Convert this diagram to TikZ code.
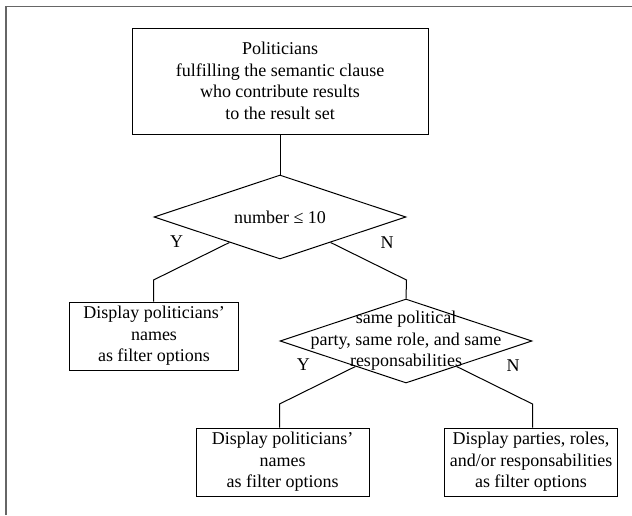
\documentclass[tikz,border=0pt]{standalone}
\usepackage{fontspec}
\setmainfont{Liberation Serif}
\usetikzlibrary{shapes.geometric,calc}
\begin{document}
\begin{tikzpicture}[x=1pt,y=-1pt,
  every node/.style={font=\fontsize{18}{21.6}\selectfont},
  box/.style={draw, line width=1pt, inner sep=0pt, align=center},
  dia/.style={draw, diamond, line width=1pt, inner sep=0pt, minimum width=252pt, minimum height=84pt},
  txt/.style={align=center, inner sep=0pt},
  conn/.style={line width=1pt},
  lbl/.style={inner sep=0pt}]
\useasboundingbox (0,0) rectangle (632,515);
\draw[line width=1.4pt, black!60] (6,515) -- (6,6.3) -- (632,6.3);

\node[box, minimum width=296pt, minimum height=106pt] (top) at (280,81)
  {Politicians\\fulfilling the semantic clause\\who contribute results\\to the result set};

\node[dia] (d1) at (280,217) {};
\node[txt] (t1) at (d1.center) {number ≤ 10};

\node[box, minimum width=169pt, minimum height=68pt] (b1) at (154,336)
  {Display politicians’\\names\\as filter options};

\node[dia] (d2) at (406,341) {};
\node[txt] (t2) at (d2.center) {same political\\party, same role, and same\\responsabilities};

\node[box, minimum width=173pt, minimum height=68pt] (b2) at (282.7,462)
  {Display politicians’\\names\\as filter options};
\node[box, minimum width=173pt, minimum height=68pt] (b3) at (531,462)
  {Display parties, roles,\\and/or responsabilities\\as filter options};

\coordinate (lvl1) at (0,280);
\coordinate (lvl2) at (0,404);

\draw[conn] (top.south) -- (d1.north);

\coordinate (y1s) at ($(d1.west)!0.6!(d1.south)$);
\coordinate (y1b) at (d1.west |- lvl1);
\draw[conn] (y1s) -- (y1b) -- (y1b |- b1.north);

\coordinate (n1s) at ($(d1.east)!0.6!(d1.south)$);
\coordinate (n1b) at (d1.east |- lvl1);
\draw[conn] (n1s) -- (n1b) -- (d2.north);

\coordinate (y2s) at ($(d2.west)!0.6!(d2.south)$);
\coordinate (y2b) at (d2.west |- lvl2);
\draw[conn] (y2s) -- (y2b) -- (y2b |- b2.north);

\coordinate (n2s) at ($(d2.east)!0.6!(d2.south)$);
\coordinate (n2b) at (d2.east |- lvl2);
\draw[conn] (n2s) -- (n2b) -- (n2b |- b3.north);

\node[lbl] (ly1) at (176.7,241.7) {Y};
\node[lbl] (ln1) at (387,243) {N};
\node[lbl] (ly2) at (303.3,365) {Y};
\node[lbl] (ln2) at (513,366) {N};
\end{tikzpicture}
\end{document}
